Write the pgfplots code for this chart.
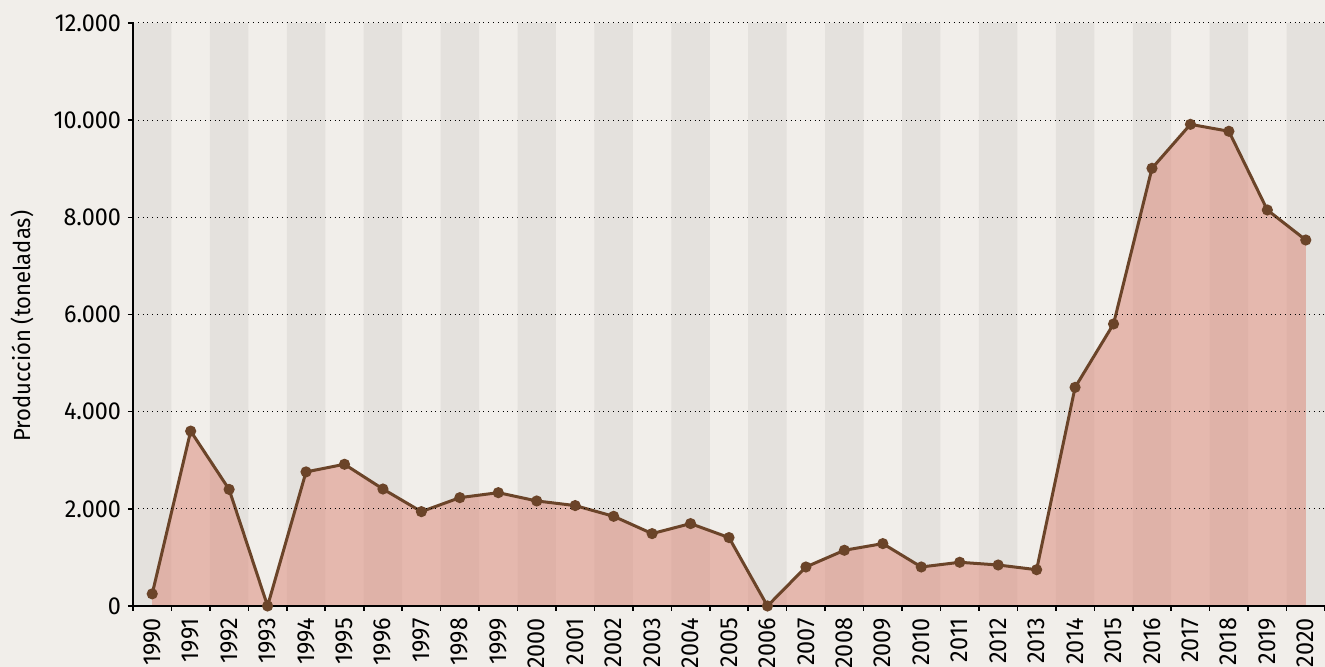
\documentclass[border=0pt]{standalone}
\usepackage{pgfplots}
\pgfplotsset{compat=1.18}
\usepackage{fontspec}
\setmainfont[FakeStretch=0.95]{Fira Sans}
\definecolor{bgc}{RGB}{241,238,234}
\definecolor{band}{RGB}{228,225,221}
\definecolor{fillc}{RGB}{219,132,116}
\definecolor{linec}{RGB}{107,68,41}
\begin{document}
\begin{tikzpicture}
\useasboundingbox (-66.5pt,-30.5pt) rectangle (596pt,303pt);
\fill[bgc] (-66.5pt,-30.5pt) rectangle (596pt,303pt);
\begin{axis}[
  axis on top,
  scale only axis, width=596pt, height=291.5pt,
  xmin=1989.5, xmax=2020.5, ymin=0, ymax=12000,
  axis lines=left, axis line style={-, black, line width=1pt},
  xtick={1990,...,2020},
  minor xtick={1989.5,1990.5,...,2020.5},
  major x tick style={draw=none},
  minor x tick style={black, line width=0.8pt},
  minor tick length=2.5pt,
  ytick={0,2000,...,12000},
  y tick style={black, line width=0.8pt},
  major tick length=2.5pt,
  tick align=outside,
  ymajorgrids, major grid style={black, dotted, line width=0.5pt},
  xticklabel style={rotate=90, anchor=east},
  ticklabel style={font=\fontsize{12.3}{14}\selectfont, text=black},
  /pgf/number format/.cd, 1000 sep={.}, assume math mode=true,
  /pgfplots/.cd,
  scaled y ticks=false,
  xticklabel={\pgfmathprintnumber[1000 sep={}]{\tick}},
  ylabel={Producción (toneladas)},
  ylabel style={font=\fontsize{11.6}{13}\selectfont, at={(axis description cs:-0.0931,0.48)}, anchor=center},
  clip=false,
]
\addplot[ybar, bar width=19.226pt, bar shift=0pt, fill=band, draw=none] coordinates {
(1990,12000) (1992,12000) (1994,12000) (1996,12000) (1998,12000) (2000,12000)
(2002,12000) (2004,12000) (2006,12000) (2008,12000) (2010,12000) (2012,12000)
(2014,12000) (2016,12000) (2018,12000) (2020,12000) };
\addplot[draw=none, fill=fillc, fill opacity=0.5] coordinates {
(1990,0) (1990,250) (1991,3600) (1992,2400) (1993,0) (1994,2760) (1995,2917)
(1996,2408) (1997,1942) (1998,2230) (1999,2333) (2000,2162) (2001,2067)
(2002,1846) (2003,1490) (2004,1696) (2005,1408) (2006,0) (2007,803)
(2008,1147) (2009,1284) (2010,803) (2011,900) (2012,844) (2013,747)
(2014,4500) (2015,5805) (2016,9009) (2017,9914) (2018,9771) (2019,8151)
(2020,7533) (2020,0) } \closedcycle;
\addplot[color=linec, line width=1.5pt, mark=*, mark size=2pt, mark options={fill=linec, draw=linec}] coordinates {
(1990,250) (1991,3600) (1992,2400) (1993,0) (1994,2760) (1995,2917)
(1996,2408) (1997,1942) (1998,2230) (1999,2333) (2000,2162) (2001,2067)
(2002,1846) (2003,1490) (2004,1696) (2005,1408) (2006,0) (2007,803)
(2008,1147) (2009,1284) (2010,803) (2011,900) (2012,844) (2013,747)
(2014,4500) (2015,5805) (2016,9009) (2017,9914) (2018,9771) (2019,8151)
(2020,7533) };
\end{axis}
\end{tikzpicture}
\end{document}
